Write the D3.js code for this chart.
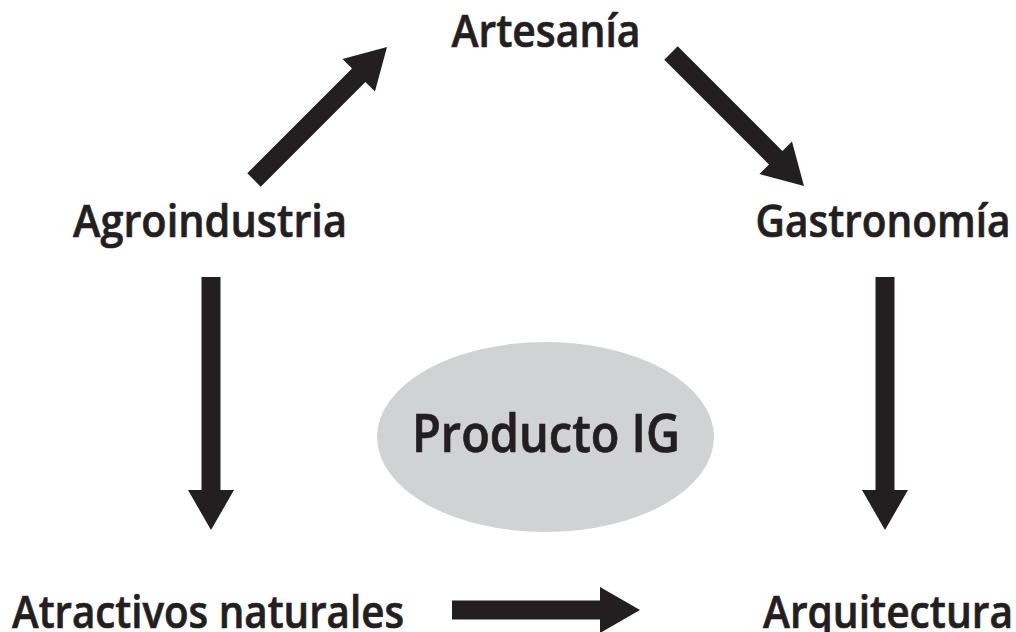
<!DOCTYPE html>
<html lang="en">
<head>
<meta charset="UTF-8">
<script src="https://d3js.org/d3.v7.min.js"></script>
<style>
  html, body { margin: 0; padding: 0; background: #fff; }
  text { font-family: "Open Sans", "Noto Sans", sans-serif; font-weight: 600; fill: #231f20; stroke: #231f20; stroke-width: 0.7px; }
</style>
</head>
<body>
<div id="diagram"></div>
<script>
// nodes of the diagram and the arrows between them
const nodes = ["Artesanía", "Agroindustria", "Gastronomía", "Atractivos naturales", "Arquitectura"];
const links = [
  ["Agroindustria", "Artesanía"],
  ["Artesanía", "Gastronomía"],
  ["Agroindustria", "Atractivos naturales"],
  ["Gastronomía", "Arquitectura"],
  ["Atractivos naturales", "Arquitectura"]
];
const center = "Producto IG";

const width = 1016, height = 632;
const ink = "#231f20";

// layout: label centre x, baseline y, and the width the word takes
const labelPos = {
  "Artesanía":            {x: 546, y: 47,  w: 189},
  "Agroindustria":        {x: 210, y: 237, w: 274},
  "Gastronomía":          {x: 883, y: 237, w: 255},
  "Atractivos naturales": {x: 208, y: 628, w: 392},
  "Arquitectura":         {x: 888, y: 628, w: 250}
};
// arrow start / end points for each link (same order as links)
const arrowPos = [
  [[254, 180], [387, 47]],
  [[671, 53],  [804, 186]],
  [[211, 277], [211, 530]],
  [[885, 277], [885, 530]],
  [[452, 610], [640, 610]]
];

const svg = d3.select("#diagram")
  .append("svg")
  .attr("width", width)
  .attr("height", height);

// centre ellipse
svg.append("ellipse")
  .attr("cx", 545.5).attr("cy", 437)
  .attr("rx", 168.5).attr("ry", 95)
  .attr("fill", "#d1d2d4");

svg.append("text")
  .attr("x", 546).attr("y", 452)
  .attr("text-anchor", "middle")
  .attr("font-size", 52)
  .attr("textLength", 268)
  .attr("lengthAdjust", "spacingAndGlyphs")
  .text(center);

// arrows: shaft 19px, head 46px wide and 40px long
const shaftW = 19, headW = 46, headL = 40;
const line = d3.line();

svg.append("g")
  .selectAll("path")
  .data(links)
  .join("path")
    .attr("fill", ink)
    .attr("d", (d, i) => {
      const [[x1, y1], [x2, y2]] = arrowPos[i];
      const len = Math.hypot(x2 - x1, y2 - y1);
      const pts = [
        [0, -shaftW / 2], [len - headL, -shaftW / 2], [len - headL, -headW / 2],
        [len, 0],
        [len - headL, headW / 2], [len - headL, shaftW / 2], [0, shaftW / 2]
      ];
      return line(pts) + "Z";
    })
    .attr("transform", (d, i) => {
      const [[x1, y1], [x2, y2]] = arrowPos[i];
      const ang = Math.atan2(y2 - y1, x2 - x1) * 180 / Math.PI;
      return `translate(${x1},${y1}) rotate(${ang})`;
    });

// labels
svg.append("g")
  .selectAll("text")
  .data(nodes)
  .join("text")
    .attr("x", d => labelPos[d].x)
    .attr("y", d => labelPos[d].y)
    .attr("text-anchor", "middle")
    .attr("font-size", 46)
    .attr("textLength", d => labelPos[d].w)
    .attr("lengthAdjust", "spacingAndGlyphs")
    .text(d => d);
</script>
</body>
</html>
